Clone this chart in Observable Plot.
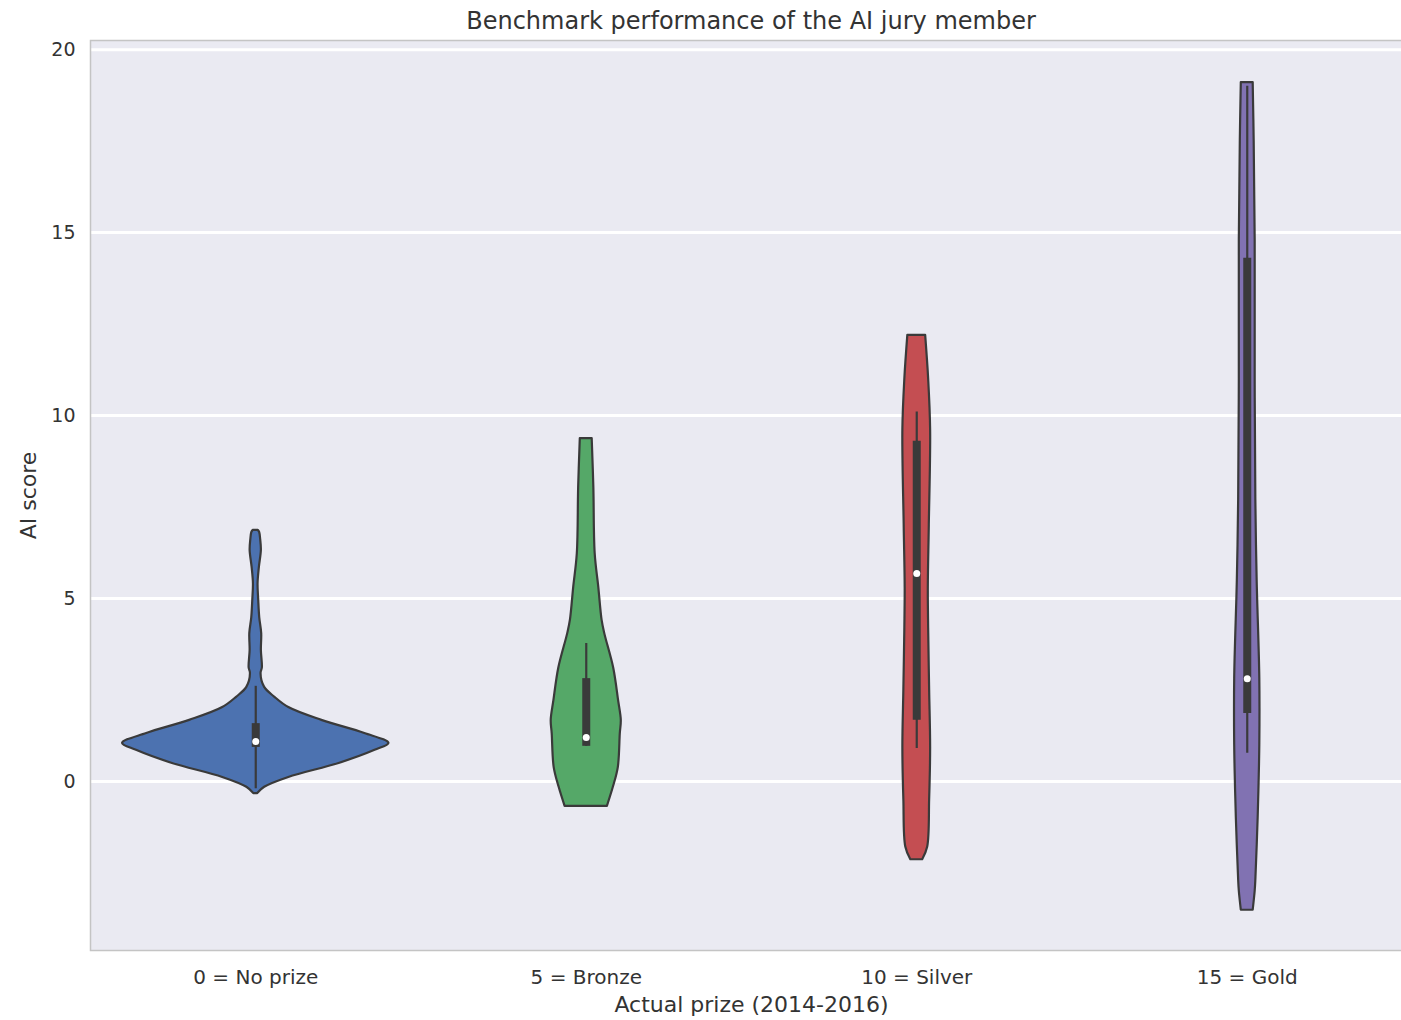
<!DOCTYPE html>
<html>
<head>
<meta charset="utf-8">
<script src="https://cdn.jsdelivr.net/npm/d3@7"></script>
<script src="https://cdn.jsdelivr.net/npm/@observablehq/plot@0.6"></script>
<style>
  html, body { margin: 0; padding: 0; background: white; overflow: hidden; }
  #title { position: absolute; left: 90px; top: 7px; width: 1322px; text-align: center;
           font-family: "DejaVu Sans", sans-serif; font-size: 24px; line-height: 28px; color: #333; z-index: 2; }
  #chart { position: absolute; left: 0; top: 30px; }
  svg { max-width: none !important; }
</style>
</head>
<body>
<div id="title">Benchmark performance of the AI jury member</div>
<div id="chart"></div>
<script>
// Categories (x tick labels)
const categories = ["0 = No prize", "5 = Bronze", "10 = Silver", "15 = Gold"];
const colors = ["#4C72B0", "#55A868", "#C44E52", "#8172B2"];
const yTicks = [0, 5, 10, 15, 20];

// Violin density profiles: AI score value and half-width (in category units)
const noPrizeY = [-0.33, -0.16, 0.11, 0.49, 0.85, 1.04, 1.31, 1.67, 2.02, 2.30, 2.57, 2.95, 3.10, 3.58, 4.04, 4.48, 4.95, 5.40, 5.85, 6.31, 6.60, 6.80, 6.86];
const noPrizeW = [0.006, 0.027, 0.100, 0.252, 0.361, 0.403, 0.330, 0.200, 0.100, 0.058, 0.027, 0.016, 0.020, 0.017, 0.018, 0.012, 0.009, 0.007, 0.011, 0.017, 0.015, 0.012, 0.008];

const bronzeY = [-0.68, -0.16, 0.38, 1.30, 1.67, 2.20, 3.10, 4.04, 4.40, 5.30, 6.23, 8.03, 9.37];
const bronzeW = [0.064, 0.082, 0.097, 0.103, 0.106, 0.098, 0.083, 0.056, 0.048, 0.038, 0.027, 0.023, 0.018];

const silverY = [-2.14, -1.80, -0.50, 0.93, 2.50, 4.20, 5.30, 7.00, 9.60, 11.00, 12.19];
const silverW = [0.018, 0.033, 0.039, 0.042, 0.039, 0.036, 0.035, 0.038, 0.042, 0.036, 0.027];

const goldY = [-3.52, -3.00, -2.70, -1.00, 0.03, 1.00, 2.81, 5.49, 7.70, 11.00, 14.80, 17.50, 19.10];
const goldW = [0.018, 0.024, 0.026, 0.033, 0.036, 0.038, 0.038, 0.030, 0.026, 0.024, 0.024, 0.021, 0.018];

// Inner box statistics
const boxQ1 = [0.93, 0.96, 1.67, 1.86];
const boxQ3 = [1.58, 2.81, 9.30, 14.30];
const whiskerLow = [-0.20, 0.96, 0.90, 0.77];
const whiskerHigh = [2.60, 3.77, 10.10, 19.00];
const medians = [1.09, 1.20, 5.68, 2.81];

const profiles = [[noPrizeY, noPrizeW], [bronzeY, bronzeW], [silverY, silverW], [goldY, goldW]];
const violinRows = profiles.flatMap(([ys, ws], i) => ys.map((y, j) => ({cat: categories[i], idx: i, y, w: ws[j]})));
const stats = categories.map((c, i) => ({cat: c, idx: i, q1: boxQ1[i], q3: boxQ3[i], lo: whiskerLow[i], hi: whiskerHigh[i], med: medians[i]}));

const edge = "#3a3a3a";
const chart = Plot.plot({
  width: 1412,
  height: 990,
  marginLeft: 90,
  marginRight: 0,
  marginTop: 10,
  marginBottom: 70,
  style: {fontFamily: "DejaVu Sans, sans-serif", fontSize: "19px", color: "#333", background: "white"},
  x: {domain: [-0.5, 3.5]},
  y: {domain: [-4.62, 20.25]},
  color: {domain: categories, range: colors},
  marks: [
    Plot.frame({fill: "#EAEAF2"}),
    Plot.ruleY(yTicks, {stroke: "white", strokeWidth: 3}),
    Plot.areaX(violinRows, {
      x1: d => d.idx - d.w, x2: d => d.idx + d.w, y: "y", z: "cat",
      fill: "cat", stroke: edge, strokeWidth: 2.2, curve: "catmull-rom"
    }),
    Plot.ruleX(stats, {x: "idx", y1: "lo", y2: "hi", stroke: edge, strokeWidth: 2.2}),
    Plot.ruleX(stats, {x: "idx", y1: "q1", y2: "q3", stroke: edge, strokeWidth: 8}),
    Plot.dot(stats, {x: "idx", y: "med", r: 3.5, fill: "white", stroke: "none"}),
    Plot.frame({stroke: "#c4c4c4", strokeWidth: 1.5}),
    Plot.axisX([0, 1, 2, 3], {tickSize: 0, tickPadding: 19, tickFormat: i => categories[i], label: null, fill: "#333", fontSize: 20}),
    Plot.axisY(yTicks, {tickSize: 0, tickPadding: 15, label: null, fill: "#333", fontSize: 19}),
    Plot.text(["Actual prize (2014-2016)"], {frameAnchor: "bottom", dy: 61, fontSize: 22, fill: "#333"}),
    Plot.text(["AI score"], {frameAnchor: "left", dx: -62, rotate: -90, textAnchor: "middle", fontSize: 22, fill: "#333"})
  ]
});
document.getElementById("chart").appendChild(chart);
</script>
</body>
</html>
